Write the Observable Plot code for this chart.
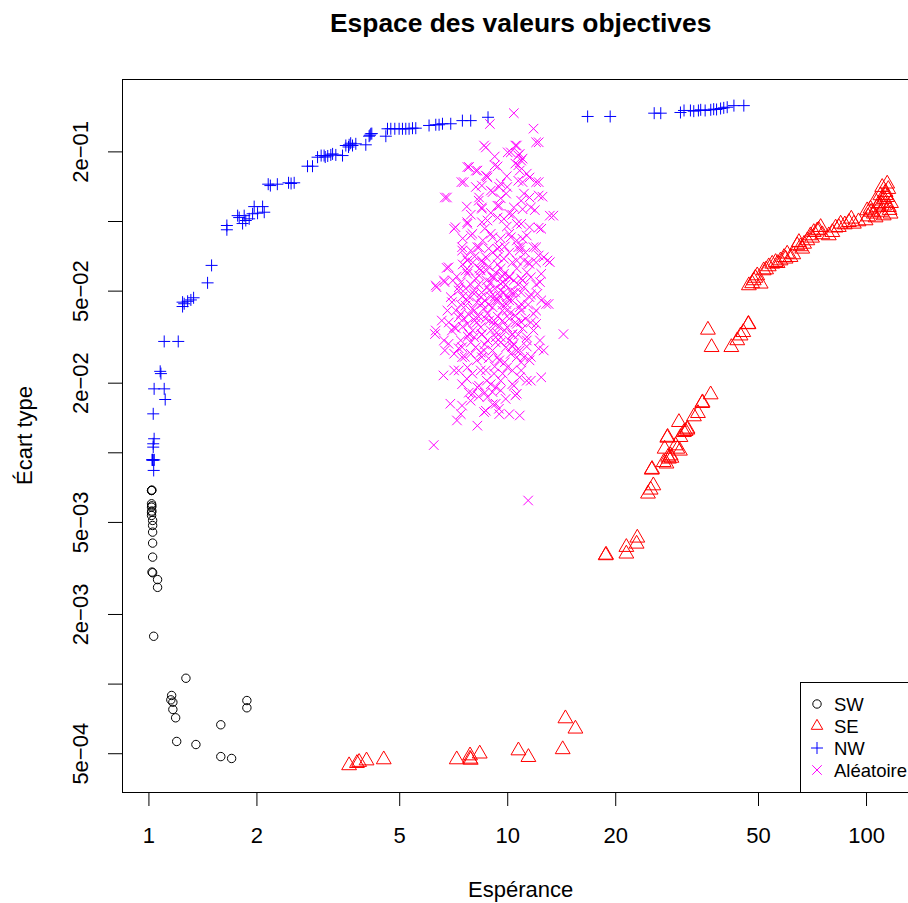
<!DOCTYPE html>
<html><head><meta charset="utf-8">
<script src="https://cdn.jsdelivr.net/npm/d3@7"></script>
<script src="https://cdn.jsdelivr.net/npm/@observablehq/plot@0.6"></script>
<style>
html,body{margin:0;padding:0;background:#fff;overflow:hidden}
#wrap{position:relative;width:908px;height:903px;overflow:hidden;background:#fff}
#wrap svg{position:absolute;left:0;top:0;max-width:none !important}
</style></head>
<body><div id="wrap"></div>
<script>
// ---- Data (x = Espérance, y = Écart type) ----
const swPoints = [[1.017,0.00687],[1.017,0.00687],[1.019,0.0069],[1.017,0.00602],[1.017,0.00582],[1.019,0.0059],[1.017,0.00553],[1.017,0.00536],[1.019,0.0056],[1.024,0.0051],[1.024,0.00485],[1.024,0.00454],[1.024,0.00407],[1.024,0.00354],[1.024,0.00303],[1.02,0.00305],[1.057,0.00283],[1.057,0.00262],[1.031,0.00161],[1.268,0.00106],[1.157,0.000893],[1.151,0.000855],[1.166,0.000835],[1.166,0.000777],[1.187,0.000715],[1.195,0.000565],[1.352,0.000548],[1.586,0.000667],[1.586,0.000486],[1.70,0.000477],[1.875,0.000849],[1.875,0.00079]];

const sePoints = [[3.613,0.000445],[3.80,0.000455],[3.853,0.00046],[4.041,0.000467],[4.513,0.000472],[7.209,0.000472],[7.852,0.000491],[7.886,0.00047],[7.85,0.000475],[8.356,0.0005],[10.71,0.000516],[11.42,0.000483],[14.23,0.000522],[14.48,0.00071],[15.44,0.000641],
[18.75,0.0036],[18.8,0.00362],[21.41,0.00366],[21.41,0.00391],[22.87,0.00404],[22.97,0.00429],[24.6,0.00665],[25.02,0.00692],[25.46,0.00722],[25.2,0.00844],[25.25,0.0085],[27.37,0.0104],[27.85,0.0116],[27.9,0.0117],[27.7,0.00897],[27.2,0.0091],[28.0,0.0096],[28.14,0.00942],[28.45,0.00973],[28.6,0.0095],[29.38,0.01075],[29.7,0.0104],[30.0,0.01356],[30.2,0.0102],[30.3,0.01168],[30.98,0.01227],[31.3,0.0124],[31.66,0.01257],[31.7,0.0127],[33.04,0.01435],[33.9,0.01483],[34.85,0.01638],[34.9,0.0165],[36.78,0.01786],[36.14,0.034],[37.0,0.0286],[42.0,0.0286],[43.63,0.0306],[44.56,0.0321],[45.34,0.0332],[46.8,0.0359],[46.9,0.036],
[47.0,0.0529],[48.0,0.054],[48.5,0.0556],[49.0,0.057],[49.6,0.0584],[50.7,0.0538],[51.7,0.0614],[52.5,0.062],[53.4,0.0639],[54.6,0.0656],[55.8,0.0667],[56.5,0.066],[57.6,0.0678],[58.9,0.0701],[59.5,0.069],[60.1,0.0725],[61.4,0.0701],[62.5,0.072],[64.1,0.0788],[64.8,0.0814],[65.5,0.078],[66.2,0.0762],[67.0,0.080],[68.4,0.0828],[69.8,0.087],[70.5,0.085],[71.3,0.0899],[72.9,0.0914],[73.5,0.092],[74.5,0.0945],[75.3,0.0879],[78.5,0.087],[80.3,0.0899],[82.0,0.094],[83.7,0.0945],[84.7,0.0977],[87.0,0.097],[89.3,0.0993],[90.7,0.1027],[92.2,0.0977],[95.0,0.100],[99.4,0.101],[100.4,0.1116],[101.0,0.105],[102.6,0.1135],[103.0,0.110],[104.8,0.108],[105.9,0.123],[106.0,0.104],[107.0,0.115],[108.2,0.1193],[109.3,0.1296],[110.0,0.120],[110.0,0.110],[110.6,0.1408],[111.7,0.1061],[112.0,0.125],[112.0,0.117],[113.0,0.1339],[113.0,0.130],[114.2,0.1456],[114.2,0.1274],[115.0,0.138],[115.4,0.1153],[116.0,0.112],[116.7,0.108],[117.0,0.120]];

const nwPoints = [[1.024,0.00932],[1.024,0.00932],[1.020,0.00932],[1.028,0.0093],[1.035,0.00932],[1.031,0.00839],[1.028,0.01058],[1.028,0.01094],[1.034,0.0115],[1.028,0.01474],[1.034,0.0189],[1.103,0.0189],[1.110,0.0170],[1.080,0.0220],[1.075,0.0225],[1.103,0.0303],[1.207,0.0303],[1.241,0.0429],[1.241,0.0448],[1.254,0.0441],[1.282,0.0452],[1.309,0.0458],[1.332,0.0468],[1.457,0.0543],[1.495,0.0646],[1.649,0.0961],[1.649,0.0921],[1.767,0.106],[1.785,0.104],[1.824,0.098],[1.843,0.106],[1.862,0.101],[1.903,0.1027],[1.945,0.108],[1.965,0.116],[2.008,0.1086],[2.074,0.116],[2.096,0.1097],[2.15,0.145],[2.18,0.143],[2.28,0.145],[2.45,0.147],[2.49,0.146],[2.54,0.147],[2.767,0.1734],[2.857,0.1734],[2.951,0.1897],[3.02,0.1928],[3.078,0.1928],[3.10,0.190],[3.15,0.192],[3.213,0.194],[3.25,0.196],[3.318,0.194],[3.464,0.1928],[3.538,0.2131],[3.60,0.210],[3.614,0.2146],[3.65,0.218],[3.693,0.2131],[3.772,0.2167],[4.022,0.2146],[4.108,0.2338],[4.13,0.236],[4.153,0.2394],[4.18,0.240],[4.574,0.2338],[4.623,0.2517],[4.722,0.2517],[4.845,0.2517],[4.981,0.2517],[5.089,0.2517],[5.198,0.2517],[5.31,0.2517],[5.427,0.2532],[5.543,0.2532],[6.036,0.2601],[6.302,0.262],[6.437,0.262],[6.579,0.2646],[6.937,0.2646],[7.476,0.273],[7.886,0.273],[8.812,0.2822],[16.7,0.2845],[19.3,0.2845],[25.6,0.294],[26.7,0.294],[30.3,0.296],[31.0,0.302],[32.3,0.302],[33.0,0.300],[34.0,0.302],[34.5,0.304],[35.5,0.302],[36.8,0.304],[37.5,0.306],[38.2,0.305],[39.2,0.308],[40.0,0.310],[40.9,0.312],[42.7,0.317],[45.5,0.317]];

const aleaPoints = [[10.4,0.294],[8.92,0.264],[11.8,0.252],[12.2,0.220],[8.69,0.209],[10.6,0.213],[10.2,0.199],[10.8,0.196],[11.0,0.187],[10.7,0.175],[7.80,0.172],[8.23,0.166],[9.37,0.173],[10.8,0.166],[11.5,0.155],[7.54,0.148],[8.78,0.155],[8.47,0.143],[9.47,0.141],[11.0,0.148],[12.2,0.148],[6.77,0.127],[8.32,0.127],[9.07,0.134],[9.90,0.132],[11.5,0.127],[12.5,0.128],[8.47,0.115],[9.47,0.117],[10.1,0.108],[11.0,0.113],[11.9,0.112],[13.4,0.106],[7.15,0.0945],[7.71,0.0993],[8.47,0.0993],[9.37,0.104],[10.6,0.0977],[11.5,0.0945],[12.4,0.093],[7.97,0.0885],[9.07,0.0855],[10.1,0.0885],[11.0,0.0842],[12.0,0.0774],[7.46,0.0774],[8.32,0.0774],[9.47,0.0774],[10.8,0.0749],[12.6,0.0701],[13.1,0.0667],[7.63,0.0701],[8.47,0.0678],[9.37,0.0701],[10.6,0.0678],[11.5,0.0656],[6.84,0.0634],[6.67,0.0547],[6.33,0.052],[7.63,0.0614],[8.32,0.0584],[9.07,0.0574],[9.68,0.0547],[10.1,0.0574],[11.0,0.0556],[12.3,0.0547],[7.30,0.0503],[8.06,0.0487],[8.88,0.0503],[9.47,0.0479],[10.3,0.0487],[11.5,0.0471],[13.0,0.044],[6.99,0.0448],[7.63,0.0433],[8.47,0.044],[9.07,0.0426],[9.90,0.044],[10.8,0.0426],[12.0,0.0412],[6.55,0.0373],[7.30,0.0385],[8.14,0.0385],[8.88,0.0373],[9.68,0.0373],[10.6,0.0361],[12.0,0.0361],[6.27,0.0326],[6.99,0.0338],[7.80,0.0326],[8.47,0.0326],[9.26,0.0316],[10.3,0.0326],[11.3,0.0316],[14.3,0.0326],[12.3,0.0306],[6.84,0.0296],[7.46,0.0286],[8.14,0.0286],[9.07,0.0277],[9.90,0.0286],[10.8,0.0277],[7.46,0.0259],[8.47,0.0259],[9.47,0.0251],[10.6,0.0259],[11.5,0.0251],[12.6,0.0277],[6.62,0.0216],[7.30,0.0227],[7.97,0.022],[8.69,0.0227],[9.68,0.022],[10.8,0.0212],[12.4,0.0212],[7.46,0.0198],[8.32,0.0195],[9.26,0.0192],[10.3,0.0198],[11.3,0.0205],[7.97,0.018],[9.07,0.0183],[10.6,0.018],[6.92,0.0163],[7.46,0.016],[7.88,0.0168],[8.69,0.0152],[9.47,0.0147],[10.1,0.0147],[10.8,0.0145],[7.22,0.0138],[8.23,0.0131],[6.22,0.0108],[11.4,0.00622],
[8.59,0.213],[10.5,0.213],[12.0,0.220],[10.0,0.199],[10.7,0.193],[7.72,0.172],[9.20,0.175],[10.5,0.178],[10.9,0.1835],[8.15,0.166],[7.43,0.148],[8.69,0.158],[9.56,0.146],[10.7,0.150],[11.3,0.161],[12.0,0.148],[6.68,0.127],[8.15,0.141],[8.97,0.136],[9.97,0.141],[11.1,0.132],[12.2,0.1295],[8.47,0.1135],[9.36,0.117],[10.4,0.115],[11.6,0.115],[13.1,0.106],[7.09,0.093],[7.72,0.0977],[8.78,0.101],[9.76,0.1027],[10.9,0.0977],[12.2,0.094],[7.89,0.087],[8.97,0.0885],[10.2,0.0855],[11.3,0.087],[7.47,0.0749],[8.23,0.0774],[9.36,0.0762],[10.7,0.0774],[11.8,0.0774],[12.9,0.0678],[7.72,0.0678],[8.69,0.0701],[9.76,0.069],[11.1,0.0678],[12.2,0.0713],[6.76,0.063],[6.30,0.0529],[6.64,0.0556],[7.72,0.0594],[8.41,0.0614],[9.16,0.0574],[9.76,0.0594],[10.4,0.0556],[11.6,0.0574],[12.4,0.0594],[7.31,0.052],[8.06,0.0503],[8.78,0.052],[9.56,0.0538],[10.2,0.0503],[11.1,0.052],[12.1,0.0487],[12.8,0.044],[6.94,0.0471],[7.72,0.0456],[8.41,0.0471],[9.26,0.0456],[9.97,0.0471],[10.9,0.044],[6.79,0.0412],[7.40,0.0399],[8.06,0.0412],[8.78,0.0399],[9.66,0.0412],[10.5,0.0392],[11.8,0.0399],[6.30,0.0338],[7.09,0.0349],[7.72,0.0361],[8.41,0.0349],[9.16,0.0361],[9.97,0.0349],[10.9,0.0368],[11.8,0.0338],[6.64,0.0306],[7.40,0.0306],[8.06,0.0316],[8.78,0.0306],[9.56,0.0316],[10.4,0.0296],[11.3,0.0306],[12.2,0.0282],[7.09,0.0268],[7.89,0.0268],[8.59,0.0277],[9.36,0.0259],[10.2,0.0268],[11.1,0.0259],[7.09,0.0227],[7.72,0.0234],[8.41,0.0227],[9.16,0.022],[9.97,0.0234],[10.9,0.0227],[8.23,0.0192],[8.97,0.0198],[9.56,0.0186],[10.4,0.0195],[10.5,0.0177],[8.78,0.0174],[9.26,0.0163],[7.40,0.0147],[8.59,0.015],[9.45,0.0155],
[7.99,0.0665],[8.85,0.0639],[9.56,0.0626],[10.6,0.0626],[7.21,0.0578],[8.74,0.0556],[10.7,0.0534],[7.89,0.0534],[9.20,0.0513],[9.75,0.0493],[7.49,0.0474],[8.20,0.0447],[8.97,0.0474],[10.3,0.0456],[11.4,0.0437],[7.17,0.0412],[7.79,0.0396],[8.58,0.042],[9.38,0.0388],[10.2,0.0404],[11.2,0.038],[7.49,0.0351],[8.20,0.0366],[8.97,0.0338],[9.81,0.0338],[10.7,0.0324],[7.89,0.030],[8.63,0.0294],[9.26,0.030],[10.1,0.0306],[7.30,0.0283],[8.85,0.0256],[8.20,0.0251],[9.81,0.0246],[10.9,0.0246],[7.69,0.0209],[8.74,0.0205],[9.56,0.0205],[8.30,0.0175],[9.87,0.0171],[8.09,0.0706],[9.08,0.0734],[10.1,0.0734],[11.2,0.0734],[8.52,0.0828],[9.56,0.0845],[7.49,0.0845],[10.6,0.0828],[8.63,0.0932],[9.94,0.0951],[7.89,0.107],[8.97,0.109],[10.3,0.107],[8.30,0.123],[9.56,0.126],[10.9,0.123],[8.74,0.157],[9.94,0.157],[9.20,0.191],[7.69,0.116],
[8.35,0.0626],[9.26,0.0602],[10.1,0.0578],[11.3,0.0602],[7.64,0.0513],[8.46,0.0493],[9.38,0.0456],[10.9,0.0493],[8.68,0.038],[9.68,0.0437],[10.5,0.0366],[11.6,0.0366],[7.40,0.0437],[7.99,0.0338],[9.44,0.0351],[10.3,0.0288],[11.3,0.0288],[8.41,0.0271],[9.20,0.0236],[10.3,0.0227],[7.79,0.0182],[9.08,0.0162],[7.03,0.0556],[12.4,0.0456],[12.0,0.0665],[6.85,0.0366],[6.68,0.0277],[11.6,0.0205],
[7.79,0.0614],[8.52,0.0665],[9.38,0.0652],[10.3,0.0665],[11.4,0.0665],[8.15,0.0567],[8.97,0.0545],[9.87,0.0534],[10.9,0.0567],[7.40,0.0545],[7.79,0.0474],[8.63,0.0456],[9.56,0.0503],[10.5,0.0493],[11.6,0.0484],[7.99,0.042],[8.85,0.0437],[9.94,0.0412],[10.9,0.0412],[7.54,0.038],[8.30,0.0388],[9.14,0.0373],[10.1,0.038],[11.0,0.0345],[7.74,0.0318],[8.46,0.0324],[9.32,0.0331],[10.3,0.0324],[8.74,0.0614],[9.68,0.0578],[8.30,0.0534],[9.20,0.0474],[10.1,0.0456],[8.09,0.0373],[9.56,0.030],[10.6,0.0277],[7.17,0.0345],[7.49,0.0652],[12.0,0.0534],[8.85,0.0764],[7.89,0.0749],[9.81,0.0779],[10.9,0.0779],[8.63,0.0182],[7.59,0.026],[11.6,0.026]];

const xTicks = [1, 2, 5, 10, 20, 50, 100];
const xTickLabels = ["1", "2", "5", "10", "20", "50", "100"];
const yTicks = [5e-4, 1e-3, 2e-3, 5e-3, 1e-2, 2e-2, 5e-2, 1e-1, 2e-1];
const yTickLabels = ["5e\u221204", "", "2e\u221203", "5e\u221203", "", "2e\u221202", "5e\u221202", "", "2e\u221201"];
const seriesNames = ["SW", "SE", "NW", "Al\u00e9atoire"];
const seriesColors = ["black", "#ff0000", "#0000ff", "#ff00ff"];
const seriesSymbols = ["circle", "triangle", "plus", "times"];
const seriesR = [4.2, 5.5, 3.95, 4.4];
const titleText = "Espace des valeurs objectives";
const xLabelText = "Esp\u00e9rance";
const yLabelText = "\u00c9cart type";

const FONT = "'Liberation Sans', Arial, Helvetica, sans-serif";
const W = 935, H = 903;
const mL = 122, mR = 15, mT = 79, mB = 111;

const seriesData = [swPoints, sePoints, nwPoints, aleaPoints];

const chart = Plot.plot({
  width: W, height: H,
  marginLeft: mL, marginRight: mR, marginTop: mT, marginBottom: mB,
  style: {fontFamily: FONT, fontSize: "22px", color: "black", background: "white", overflow: "visible", maxWidth: "none"},
  x: {type: "log", domain: [0.844, 141.4]},
  y: {type: "log", domain: [3.399e-4, 0.4111]},
  marks: [
    Plot.axisX({ticks: xTicks, tickFormat: (d) => xTickLabels[xTicks.indexOf(d)], tickSize: 14, tickPadding: 21, fontSize: 22, label: null}),
    Plot.axisY({ticks: yTicks, tickFormat: () => "", tickSize: 14, label: null}),
    Plot.text(yTicks, {y: (d) => d, text: (d, i) => yTickLabels[i], frameAnchor: "left", dx: -41.5, rotate: -90, fontSize: 22, textAnchor: "middle", lineAnchor: "middle", fill: "black"}),
    ...seriesData.map((pts, i) => Plot.dot(pts, {x: (d) => d[0], y: (d) => d[1], symbol: seriesSymbols[i], r: seriesR[i], stroke: seriesColors[i], fill: "none", strokeWidth: 1})),
    Plot.frame({stroke: "black", strokeWidth: 1})
  ]
});
chart.style.maxWidth = "none";
chart.setAttribute("width", W);
chart.setAttribute("height", H);
document.getElementById("wrap").appendChild(chart);

// ---- Overlay: title, axis labels, legend ----
const ov = d3.select("#wrap").append("svg")
  .attr("width", 908).attr("height", 903)
  .style("font-family", FONT).style("pointer-events", "none");

ov.append("text").attr("x", 520.7).attr("y", 31.5).attr("text-anchor", "middle")
  .attr("font-size", 26.4).attr("font-weight", "bold").attr("fill", "black").text(titleText);
ov.append("text").attr("x", 520.7).attr("y", 897).attr("text-anchor", "middle")
  .attr("font-size", 22).attr("fill", "black").text(xLabelText);
ov.append("text").attr("transform", "translate(32,435.5) rotate(-90)").attr("text-anchor", "middle")
  .attr("font-size", 22).attr("fill", "black").text(yLabelText);

const lg = ov.append("g");
lg.append("rect").attr("x", 800.5).attr("y", 682.5).attr("width", 200).attr("height", 110)
  .attr("fill", "white").attr("stroke", "black").attr("stroke-width", 1);
const symMap = {circle: d3.symbolCircle, triangle: d3.symbolTriangle2, plus: d3.symbolPlus, times: d3.symbolTimes};
const rowY = [704, 726, 748, 770];
seriesNames.forEach((name, i) => {
  const r = seriesR[i];
  lg.append("path").attr("d", d3.symbol(symMap[seriesSymbols[i]], r * r * Math.PI)())
    .attr("transform", `translate(817,${rowY[i]})`)
    .attr("fill", "none").attr("stroke", seriesColors[i]).attr("stroke-width", 1);
  lg.append("text").attr("x", 834).attr("y", rowY[i] + 6.6).attr("font-size", 18.5).attr("fill", "black").text(name);
});
</script>
</body></html>
